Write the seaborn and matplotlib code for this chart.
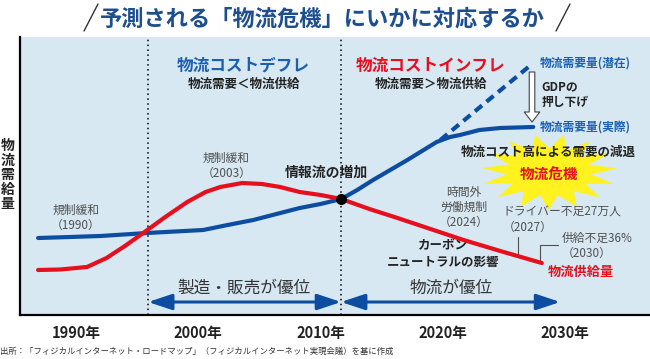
import numpy as np
import pandas as pd
import matplotlib.pyplot as plt
import seaborn as sns

# values: x = year, y = level (arbitrary units)
demand_year = [1986.9, 1989.5, 1992.0, 1995.8, 1998.1, 2000.4, 2002.4, 2004.5, 2006.4,
               2008.3, 2010.0, 2011.7, 2013.0, 2014.3, 2015.7, 2017.1, 2018.3, 2019.5,
               2020.6, 2021.4, 2023.0, 2024.7, 2027.4]
demand_level = [77, 78, 79, 82, 83.5, 85, 90, 95, 101, 107, 111, 116, 125, 135, 145, 155,
                164, 173, 178, 180, 185, 187, 188]

potential_year = [2019.8, 2027.3]
potential_level = [175, 251]

supply_year = [1986.9, 1988.7, 1990.9, 1992.5, 1994.0, 1995.5, 1997.3, 1999.1, 2000.6,
               2001.8, 2003.6, 2005.2, 2006.7, 2008.3, 2010.0, 2011.7, 2014.0, 2016.3,
               2019.0, 2021.7, 2024.7, 2028.1]
supply_level = [45, 45.5, 48, 57, 69, 82, 98, 113, 123, 128, 132, 131, 128, 123, 120, 116,
                106, 97, 86, 75, 64, 52]

cross_year = 2011.68
cross_level = 116
era_years = [1995.9, 2011.68]
era_end = 2029.6

tick_years = [1990, 2000, 2010, 2020, 2030]
tick_labels = ["1990年", "2000年", "2010年", "2020年", "2030年"]

BLUE = "#0c4da2"
TEXT_BLUE = "#1b5fb0"
RED = "#e60f1e"
BG = "#d7e8f3"
GRAY = "#505050"

sns.set_theme(style="white")
plt.rcParams["font.family"] = ["Noto Sans CJK JP", "DejaVu Sans"]

fig = plt.figure(figsize=(6.5, 3.59), dpi=100)
ax = fig.add_axes([20 / 650, 44 / 359, 630 / 650, 278 / 359])
ax.set_facecolor(BG)
ax.set_xlim(1985.42, 2036.95)
ax.set_ylim(0, 278)

# era separators
for yr in era_years:
    ax.axvline(yr, color="black", lw=1.1, ls=(0, (1, 2.2)), zorder=1)

# yellow starburst behind "物流危機"
n = 15
ang = np.linspace(0, 2 * np.pi, 2 * n, endpoint=False) + 0.1
rad = np.where(np.arange(2 * n) % 2 == 0, 1.0, 0.62)
ax.fill(2028.7 + 5.6 * rad * np.cos(ang), 143 + 38 * rad * np.sin(ang),
        color="#fff21f", lw=0, zorder=1)

# curves
sns.lineplot(x=potential_year, y=potential_level, ax=ax, color=BLUE, lw=3,
             linestyle=(0, (2.2, 1.4)), estimator=None, sort=False, zorder=3)
sns.lineplot(x=demand_year, y=demand_level, ax=ax, color=BLUE, lw=3,
             estimator=None, sort=False, zorder=4)
sns.lineplot(x=supply_year, y=supply_level, ax=ax, color=RED, lw=3,
             estimator=None, sort=False, zorder=4)
ax.scatter([cross_year], [cross_level], s=48, color="black", zorder=5)

# era arrows
arrow_style = "<|-|>,head_length=0.72,head_width=0.24"
ax.annotate("", xy=(era_years[0], 13), xytext=(era_years[1], 13),
            arrowprops=dict(arrowstyle=arrow_style, color=BLUE, lw=2.2,
                            shrinkA=0, shrinkB=0, mutation_scale=20))
ax.annotate("", xy=(era_years[1], 13), xytext=(era_end, 13),
            arrowprops=dict(arrowstyle=arrow_style, color=BLUE, lw=2.2,
                            shrinkA=0, shrinkB=0, mutation_scale=20))
ax.text(2003.7, 27, "製造・販売が優位", ha="center", va="center", fontsize=12, color="#333333")
ax.text(2020.7, 27, "物流が優位", ha="center", va="center", fontsize=12, color="#333333")

# GDP push-down arrow
ax.annotate("", xy=(2027.3, 193), xytext=(2027.3, 243),
            arrowprops=dict(arrowstyle="simple,head_length=0.36,head_width=0.56,tail_width=0.2",
                            fc="white", ec="#444444", lw=0.8, shrinkA=0, shrinkB=0,
                            mutation_scale=20))

# labels
ax.text(2003.7, 249, "物流コストデフレ", ha="center", va="center", fontsize=12,
        fontweight="bold", color=TEXT_BLUE)
ax.text(2003.7, 231, "物流需要＜物流供給", ha="center", va="center", fontsize=9,
        fontweight="bold", color="#222222")
ax.text(2019.0, 249, "物流コストインフレ", ha="center", va="center", fontsize=12,
        fontweight="bold", color=RED)
ax.text(2019.0, 231, "物流需要＞物流供給", ha="center", va="center", fontsize=9,
        fontweight="bold", color="#222222")
ax.text(2027.95, 252, "物流需要量(潜在)", ha="left", va="center", fontsize=8.5,
        fontweight="bold", color=TEXT_BLUE)
ax.text(2027.95, 188, "物流需要量(実際)", ha="left", va="center", fontsize=8.5,
        fontweight="bold", color=TEXT_BLUE)
ax.text(2028.1, 220, "GDPの\n押し下げ", ha="left", va="center", fontsize=8.5,
        fontweight="bold", color="#222222", linespacing=1.25)
ax.text(2028.6, 163, "物流コスト高による需要の減退", ha="center", va="center", fontsize=9,
        fontweight="bold", color="#222222", zorder=6)
ax.text(2028.7, 140, "物流危機", ha="center", va="center", fontsize=10.5,
        fontweight="bold", color=RED, zorder=6)
ax.text(1990.0, 97, "規制緩和\n（1990）", ha="center", va="center", fontsize=8.5,
        color=GRAY, linespacing=1.2)
ax.text(2002.3, 149, "規制緩和\n（2003）", ha="center", va="center", fontsize=8.5,
        color=GRAY, linespacing=1.2)
ax.text(2010.45, 142, "情報流の増加", ha="center", va="center", fontsize=10,
        fontweight="bold", color="#222222")
ax.text(2021.7, 108, "時間外\n労働規制\n（2024）", ha="center", va="center", fontsize=8.5,
        color=GRAY, linespacing=1.2)
ax.text(2024.9, 95, "ドライバー不足27万人\n（2027）", ha="left", va="center", fontsize=8.5,
        color=GRAY, linespacing=1.2)
ax.text(2029.7, 69, "供給不足36%\n（2030）", ha="left", va="center", fontsize=8.5,
        color=GRAY, linespacing=1.2)
ax.text(2020.0, 61, "カーボン\nニュートラルの影響", ha="center", va="center", fontsize=9,
        fontweight="bold", color="#222222", linespacing=1.35)
ax.text(2028.6, 43, "物流供給量", ha="left", va="center", fontsize=9.5,
        fontweight="bold", color=RED)

# leader lines
ax.plot([2026.16, 2026.16], [60, 78], color=GRAY, lw=0.8)
ax.plot([2027.96, 2027.96, 2029.45], [53, 70, 70], color=GRAY, lw=0.8)

# axes styling
ax.set_xticks(tick_years)
ax.set_xticklabels(tick_labels, fontsize=10.5, fontweight="bold", color="#222222")
ax.tick_params(axis="x", length=0, pad=7)
ax.set_yticks([])
ax.set_xlabel("")
ax.set_ylabel("")
for side in ["top", "right"]:
    ax.spines[side].set_visible(False)
for side in ["left", "bottom"]:
    ax.spines[side].set_color("black")
    ax.spines[side].set_linewidth(1.6)

fig.text(7.5 / 650, 1 - 175 / 359, "物\n流\n需\n給\n量", ha="center", va="center",
         fontsize=10, fontweight="bold", color="#222222", linespacing=1.05)

# title with slashes
fig.text(322 / 650, 1 - 19 / 359, "予測される「物流危機」にいかに対応するか", ha="center",
         va="center", fontsize=16, fontweight="bold", color="#1d4e8f")
fig.add_artist(plt.Line2D([84 / 650, 98 / 650], [1 - 31 / 359, 1 - 4 / 359],
                          color="#333333", lw=1.0))
fig.add_artist(plt.Line2D([556 / 650, 570 / 650], [1 - 31 / 359, 1 - 4 / 359],
                          color="#333333", lw=1.0))

fig.text(0.0, 1 - 351 / 359,
         "出所：「フィジカルインターネット・ロードマップ」（フィジカルインターネット実現会議）を基に作成",
         ha="left", va="center", fontsize=6.0, color="#333333")

fig.savefig("out.png", dpi=100)
